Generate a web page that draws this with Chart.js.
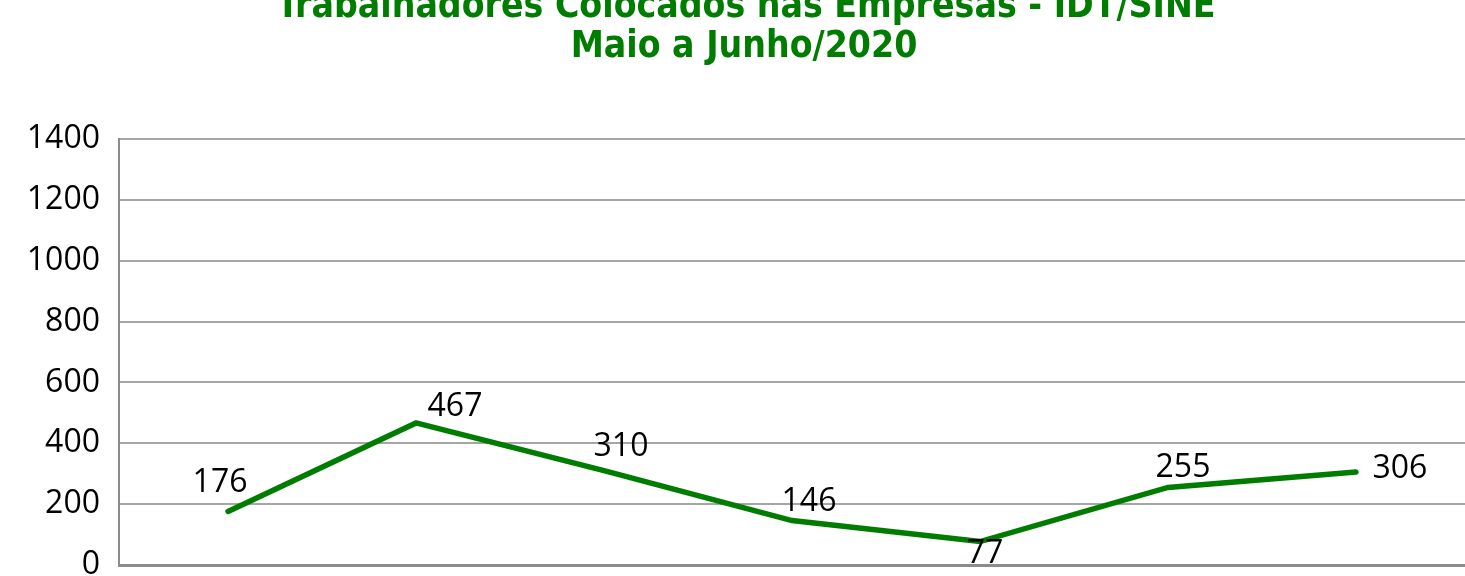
<!DOCTYPE html>
<html>
<head>
<meta charset="utf-8">
<script src="https://cdn.jsdelivr.net/npm/chart.js@4/dist/chart.umd.min.js"></script>
<style>
  html, body { margin: 0; padding: 0; background: #ffffff; overflow: hidden; }
  #wrap { position: absolute; left: 0; top: 0; width: 1465px; height: 604px; }
</style>
</head>
<body>
<div id="wrap"><canvas id="c" width="1465" height="604"></canvas></div>
<script>
// ---- data ----
const titleLines = ['Trabalhadores Colocados nas Empresas - IDT/SINE', 'Maio a Junho/2020'];
const categories = [1, 2, 3, 4, 5, 6, 7];
const colocados = [176, 467, 310, 146, 77, 255, 306];
const yTicks = [0, 200, 400, 600, 800, 1000, 1200, 1400];

// ---- styling / placement (not data) ----
const GREEN = '#007d00';
const TEXT_FONT = '"Open Sans", "Noto Sans", sans-serif';
const labelOffsets = [[-8, -29], [39, -16], [17, -24], [17, -19], [5, 12], [15, -20], [44, -3]];

const titlePlugin = {
  id: 'topTitle',
  afterDraw(chart) {
    const ctx = chart.ctx;
    ctx.save();
    ctx.fillStyle = GREEN;
    ctx.font = 'bold 37px "DejaVu Sans Condensed", "DejaVu Sans", sans-serif';
    ctx.textAlign = 'center';
    ctx.textBaseline = 'alphabetic';
    ctx.fillText(titleLines[0], 746, 17);
    ctx.fillText(titleLines[1], 744, 57);
    ctx.restore();
  }
};

const valueLabels = {
  id: 'valueLabels',
  afterDatasetsDraw(chart) {
    const ctx = chart.ctx;
    const meta = chart.getDatasetMeta(0);
    ctx.save();
    ctx.fillStyle = '#000000';
    ctx.font = '32px ' + TEXT_FONT;
    ctx.textAlign = 'center';
    ctx.textBaseline = 'middle';
    meta.data.forEach((pt, i) => {
      const off = labelOffsets[i] || [0, -20];
      ctx.fillText(String(colocados[i]), pt.x + off[0], pt.y + off[1]);
    });
    ctx.restore();
  }
};

new Chart(document.getElementById('c'), {
  type: 'line',
  data: {
    datasets: [{
      label: 'Trabalhadores Colocados',
      data: categories.map((c, i) => ({ x: i, y: colocados[i] })),
      borderColor: GREEN,
      backgroundColor: GREEN,
      borderWidth: 5.5,
      borderCapStyle: 'round',
      borderJoinStyle: 'miter',
      pointRadius: 0,
      pointHoverRadius: 0,
      tension: 0,
      fill: false
    }]
  },
  options: {
    responsive: false,
    animation: false,
    events: [],
    layout: { padding: { top: 139, bottom: 39, left: 0, right: 0 } },
    plugins: {
      legend: { display: false },
      title: { display: false },
      tooltip: { enabled: false }
    },
    scales: {
      x: {
        type: 'linear',
        min: -0.58,
        max: 6.58,
        grid: { display: false, drawTicks: false },
        border: { display: true, color: '#8c8c8c', width: 3 },
        ticks: { display: false },
        afterFit(scale) { scale.height = 0; }
      },
      y: {
        min: 0,
        max: 1400,
        afterBuildTicks(scale) { scale.ticks = yTicks.map(v => ({ value: v })); },
        grid: { color: '#a6a6a6', lineWidth: 2, drawTicks: false },
        border: { display: true, color: '#8c8c8c', width: 2 },
        ticks: {
          padding: 19,
          color: '#000000',
          font: { family: TEXT_FONT, size: 32 },
          callback: (v) => String(v)
        },
        afterFit(scale) { scale.width = 119; }
      }
    }
  },
  plugins: [titlePlugin, valueLabels]
});
</script>
</body>
</html>
